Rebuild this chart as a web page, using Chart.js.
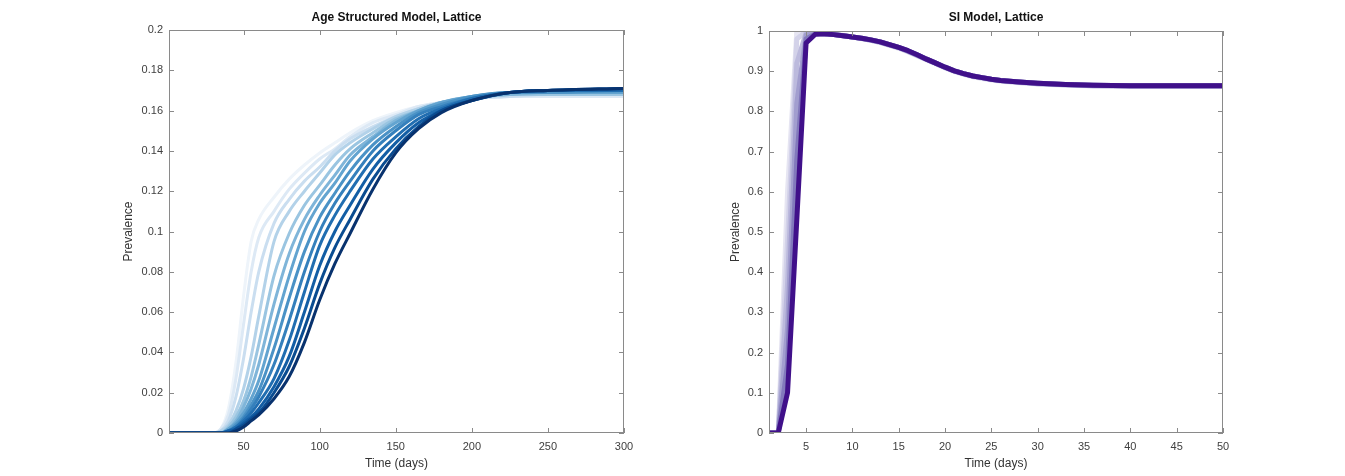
<!DOCTYPE html>
<html>
<head>
<meta charset="utf-8">
<script src="https://cdn.jsdelivr.net/npm/chart.js@4.4.1/dist/chart.umd.min.js"></script>
<style>
  html, body { margin: 0; padding: 0; background: #fff; width: 1345px; height: 476px; overflow: hidden; }
  .panel { position: absolute; top: 0; height: 476px; }
</style>
</head>
<body>
<div class="panel" style="left:117px;width:527px"><canvas id="age"></canvas></div>
<div class="panel" style="left:724px;width:519px"><canvas id="si"></canvas></div>
<script>
// ---- Age structured model: days and prevalence, lightest curve first ----
const ageDays = [1, 30, 35, 40, 45, 50, 55, 60, 70, 80, 90, 100, 110, 120, 135, 150, 165, 180, 200, 225, 250, 300];
const age01 = [0, 0, 0.002, 0.012, 0.035, 0.068, 0.095, 0.106, 0.117, 0.126, 0.133, 0.139, 0.144, 0.149, 0.155, 0.159, 0.162, 0.164, 0.166, 0.167, 0.167, 0.167];
const age02 = [0, 0, 0.002, 0.009, 0.027, 0.054, 0.080, 0.097, 0.110, 0.121, 0.129, 0.136, 0.141, 0.147, 0.154, 0.158, 0.162, 0.164, 0.166, 0.167, 0.167, 0.167];
const age03 = [0, 0, 0.001, 0.006, 0.018, 0.037, 0.060, 0.080, 0.104, 0.116, 0.125, 0.132, 0.140, 0.146, 0.152, 0.157, 0.161, 0.164, 0.166, 0.167, 0.168, 0.168];
const age04 = [0, 0, 0.001, 0.004, 0.011, 0.022, 0.038, 0.058, 0.095, 0.110, 0.120, 0.129, 0.138, 0.144, 0.151, 0.157, 0.161, 0.164, 0.166, 0.168, 0.168, 0.168];
const age05 = [0, 0, 0, 0.003, 0.008, 0.016, 0.028, 0.044, 0.078, 0.099, 0.113, 0.123, 0.133, 0.141, 0.149, 0.156, 0.160, 0.164, 0.166, 0.168, 0.168, 0.168];
const age06 = [0, 0, 0, 0.002, 0.006, 0.013, 0.022, 0.034, 0.064, 0.089, 0.106, 0.118, 0.128, 0.138, 0.147, 0.155, 0.160, 0.164, 0.167, 0.168, 0.169, 0.169];
const age07 = [0, 0, 0, 0.002, 0.005, 0.010, 0.017, 0.026, 0.052, 0.078, 0.100, 0.114, 0.124, 0.135, 0.146, 0.154, 0.160, 0.164, 0.167, 0.169, 0.169, 0.169];
const age08 = [0, 0, 0, 0.001, 0.004, 0.008, 0.014, 0.021, 0.042, 0.067, 0.090, 0.107, 0.119, 0.130, 0.143, 0.152, 0.159, 0.163, 0.167, 0.169, 0.169, 0.170];
const age09 = [0, 0, 0, 0.001, 0.003, 0.007, 0.012, 0.018, 0.034, 0.056, 0.080, 0.100, 0.114, 0.125, 0.140, 0.150, 0.158, 0.162, 0.166, 0.169, 0.170, 0.170];
const age10 = [0, 0, 0, 0.001, 0.003, 0.006, 0.010, 0.015, 0.027, 0.046, 0.070, 0.093, 0.108, 0.120, 0.136, 0.147, 0.156, 0.161, 0.166, 0.169, 0.170, 0.170];
const age11 = [0, 0, 0, 0.001, 0.002, 0.005, 0.008, 0.012, 0.023, 0.038, 0.060, 0.083, 0.100, 0.113, 0.131, 0.144, 0.154, 0.160, 0.165, 0.169, 0.170, 0.171];
const age12 = [0, 0, 0, 0, 0.002, 0.004, 0.007, 0.010, 0.020, 0.033, 0.052, 0.074, 0.092, 0.106, 0.126, 0.141, 0.152, 0.160, 0.165, 0.169, 0.170, 0.171];
const age13 = [0, 0, 0, 0, 0.001, 0.003, 0.006, 0.009, 0.017, 0.028, 0.045, 0.066, 0.084, 0.099, 0.121, 0.139, 0.151, 0.159, 0.165, 0.169, 0.170, 0.171];
const ageXTicks = [50, 100, 150, 200, 250, 300];
const ageYTicks = [0, 0.02, 0.04, 0.06, 0.08, 0.1, 0.12, 0.14, 0.16, 0.18, 0.2];

// ---- SI model: days and prevalence, faintest run first, main run last ----
const siDays = [1, 2, 3, 4, 5, 6, 7, 8, 9, 10, 11, 12, 13, 14, 15, 16, 17, 18, 19, 20, 21, 22, 23, 24, 25, 26, 28, 30, 33, 36, 40, 45, 50];
const siFade1 = [0, 0, 0.60, 1.00, 1.00, 0.996, 0.994, 0.992, 0.989, 0.985, 0.981, 0.977, 0.971, 0.964, 0.957, 0.948, 0.938, 0.928, 0.918, 0.908, 0.899, 0.892, 0.886, 0.882, 0.878, 0.875, 0.871, 0.868, 0.865, 0.863, 0.862, 0.862, 0.862];
const siFade2 = [0, 0, 0.48, 0.98, 0.999, 0.995, 0.994, 0.992, 0.989, 0.985, 0.981, 0.977, 0.972, 0.965, 0.958, 0.949, 0.939, 0.929, 0.919, 0.909, 0.900, 0.893, 0.887, 0.883, 0.879, 0.876, 0.872, 0.869, 0.866, 0.864, 0.863, 0.863, 0.863];
const siFade3 = [0, 0, 0.37, 0.92, 0.995, 0.994, 0.994, 0.991, 0.988, 0.985, 0.981, 0.977, 0.972, 0.965, 0.959, 0.950, 0.940, 0.930, 0.920, 0.910, 0.901, 0.894, 0.888, 0.884, 0.880, 0.877, 0.873, 0.869, 0.866, 0.864, 0.863, 0.863, 0.863];
const siFade4 = [0, 0, 0.26, 0.82, 0.99, 0.993, 0.993, 0.991, 0.988, 0.985, 0.982, 0.978, 0.973, 0.966, 0.959, 0.950, 0.940, 0.930, 0.920, 0.910, 0.901, 0.894, 0.888, 0.884, 0.880, 0.877, 0.873, 0.870, 0.867, 0.865, 0.864, 0.864, 0.864];
const siFade5 = [0, 0, 0.17, 0.68, 0.98, 0.993, 0.993, 0.991, 0.988, 0.985, 0.982, 0.978, 0.973, 0.966, 0.959, 0.951, 0.941, 0.930, 0.920, 0.910, 0.901, 0.894, 0.888, 0.884, 0.880, 0.877, 0.873, 0.870, 0.867, 0.865, 0.864, 0.864, 0.864];
const siMain = [0, 0, 0.10, 0.53, 0.97, 0.992, 0.993, 0.991, 0.988, 0.985, 0.982, 0.978, 0.973, 0.966, 0.959, 0.951, 0.941, 0.930, 0.920, 0.910, 0.901, 0.894, 0.888, 0.884, 0.880, 0.877, 0.873, 0.870, 0.867, 0.865, 0.864, 0.864, 0.864];
const siXTicks = [5, 10, 15, 20, 25, 30, 35, 40, 45, 50];
const siYTicks = [0, 0.1, 0.2, 0.3, 0.4, 0.5, 0.6, 0.7, 0.8, 0.9, 1];

const ageSeries = [age01, age02, age03, age04, age05, age06, age07, age08, age09, age10, age11, age12, age13];
const ageColors = ['#eef4fa', '#dde9f5', '#cadef0', '#b3d2e9', '#9ac5e1', '#7fb5d9', '#63a4d0', '#4a92c6', '#3580bc', '#216eb1', '#135ea5', '#0a4c91', '#08326e'];
const siSeries = [siFade1, siFade2, siFade3, siFade4, siFade5, siMain];
const siColors = ['#e6e5f2', '#d3d2e9', '#bcbadd', '#a29ecf', '#8279bc', '#40108a'];

const FONT = '"Liberation Sans", Arial, Helvetica, sans-serif';
const TICK_COLOR = '#404040';

// matlab-ish axes: box on all four sides, ticks pointing inward, title over the axes
const boxPlugin = {
  id: 'matlabBox',
  afterDraw(chart, args, opts) {
    const { ctx, chartArea: a } = chart;
    const xs = chart.scales.x, ys = chart.scales.y;
    const L = 5;
    ctx.save();
    ctx.strokeStyle = '#8a8a8a';
    ctx.lineWidth = 1;
    ctx.strokeRect(Math.round(a.left) + 0.5, Math.round(a.top) + 0.5, Math.round(a.width) - 1, Math.round(a.height) - 1);
    ctx.beginPath();
    xs.ticks.forEach(t => {
      const px = Math.round(xs.getPixelForValue(t.value)) + 0.5;
      ctx.moveTo(px, a.bottom); ctx.lineTo(px, a.bottom - L);
      ctx.moveTo(px, a.top); ctx.lineTo(px, a.top + L);
    });
    ys.ticks.forEach(t => {
      const py = Math.round(ys.getPixelForValue(t.value)) + 0.5;
      ctx.moveTo(a.left, py); ctx.lineTo(a.left + L, py);
      ctx.moveTo(a.right, py); ctx.lineTo(a.right - L, py);
    });
    ctx.stroke();
    ctx.fillStyle = '#111';
    ctx.font = 'bold 12px ' + FONT;
    ctx.textAlign = 'center';
    ctx.textBaseline = 'middle';
    ctx.fillText(opts.text, (a.left + a.right) / 2, 18);
    ctx.restore();
  }
};

function makeDatasets(days, series, colors, width, smooth) {
  return series.map((vals, i) => ({
    data: days.map((d, j) => ({ x: d, y: vals[j] })),
    borderColor: colors[i],
    borderWidth: width,
    pointRadius: 0,
    cubicInterpolationMode: smooth ? 'monotone' : 'default',
    tension: 0,
    borderJoinStyle: 'round',
    clip: 0,
    fill: false
  })).reverse(); // first dataset is drawn on top, so darkest goes first
}

function makeOptions(cfg) {
  return {
    responsive: true,
    maintainAspectRatio: false,
    animation: false,
    layout: { padding: { top: cfg.top, right: 20, left: 0, bottom: 0 } },
    plugins: {
      legend: { display: false },
      tooltip: { enabled: false },
      matlabBox: { text: cfg.title }
    },
    scales: {
      x: {
        type: 'linear', min: cfg.xMin, max: cfg.xMax,
        afterBuildTicks: s => { s.ticks = cfg.xTicks.map(v => ({ value: v })); },
        afterFit: s => { s.height = 43; },
        grid: { display: false, drawTicks: false, tickLength: 0 }, border: { display: false },
        ticks: { autoSkip: false, maxRotation: 0, padding: 7, color: TICK_COLOR, font: { family: FONT, size: 11 }, callback: v => String(v) },
        title: { display: true, text: 'Time (days)', color: '#333', font: { family: FONT, size: 12 }, padding: { top: 0, bottom: 5 } }
      },
      y: {
        type: 'linear', min: cfg.yMin, max: cfg.yMax,
        afterBuildTicks: s => { s.ticks = cfg.yTicks.map(v => ({ value: v })); },
        afterFit: s => { s.width = cfg.yWidth; },
        grid: { display: false, drawTicks: false, tickLength: 0 }, border: { display: false },
        ticks: { autoSkip: false, padding: 6, color: TICK_COLOR, font: { family: FONT, size: 11 }, callback: v => String(v) },
        title: { display: true, text: 'Prevalence', color: '#333', font: { family: FONT, size: 12 }, padding: { top: 4, bottom: 4 } }
      }
    }
  };
}

new Chart(document.getElementById('age'), {
  type: 'line',
  data: { datasets: makeDatasets(ageDays, ageSeries, ageColors, 3, true) },
  options: makeOptions({ title: 'Age Structured Model, Lattice', top: 30, xMin: 1, xMax: 300, xTicks: ageXTicks, yMin: 0, yMax: 0.2, yTicks: ageYTicks, yWidth: 52 }),
  plugins: [boxPlugin]
});

new Chart(document.getElementById('si'), {
  type: 'line',
  data: { datasets: makeDatasets(siDays, siSeries, siColors, 5, false) },
  options: makeOptions({ title: 'SI Model, Lattice', top: 31, xMin: 1, xMax: 50, xTicks: siXTicks, yMin: 0, yMax: 1, yTicks: siYTicks, yWidth: 45 }),
  plugins: [boxPlugin]
});
</script>
</body>
</html>
